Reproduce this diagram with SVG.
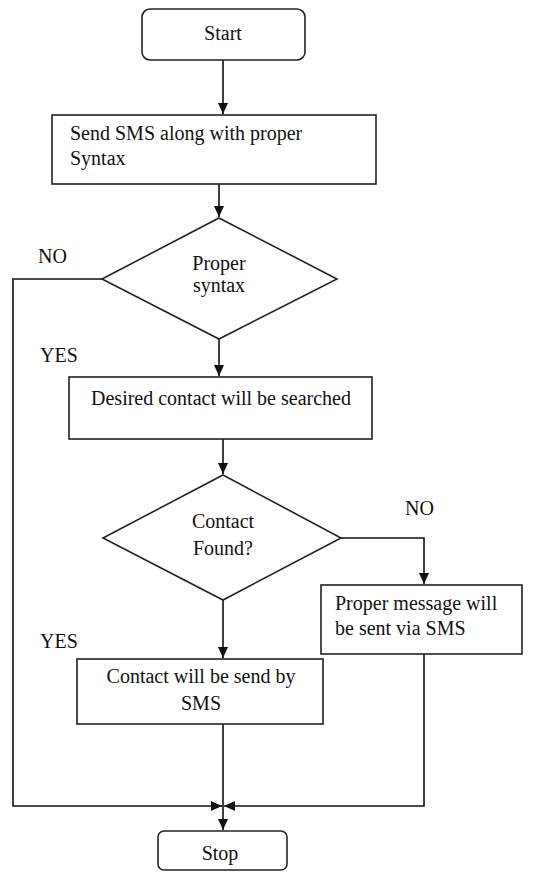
<svg xmlns="http://www.w3.org/2000/svg" width="538" height="872" viewBox="0 0 538 872">
<style>
.box{fill:#fff;stroke:#222;stroke-width:1.6}
.ln{fill:none;stroke:#111;stroke-width:1.6}
text{font-family:"Liberation Serif","Times New Roman",serif;font-size:20px;fill:#111}
.c{text-anchor:middle}
</style>
<defs>
<marker id="ah" markerUnits="userSpaceOnUse" markerWidth="12" markerHeight="12" viewBox="0 0 12 12" refX="11" refY="6" orient="auto">
<path d="M0,1 L11,6 L0,11 Z" fill="#111"/>
</marker>
</defs>
<g id="connectors">
<path class="ln" d="M223,60 V114" marker-end="url(#ah)"/>
<path class="ln" d="M219,184 V217" marker-end="url(#ah)"/>
<path class="ln" d="M219,339 V376" marker-end="url(#ah)"/>
<path class="ln" d="M223,439 V474" marker-end="url(#ah)"/>
<path class="ln" d="M223,600 V658" marker-end="url(#ah)"/>
<path class="ln" d="M341,538 H424 V584" marker-end="url(#ah)"/>
<path class="ln" d="M102,279 H13 V806 H222" marker-end="url(#ah)"/>
<path class="ln" d="M424,654 V806 H224" marker-end="url(#ah)"/>
<path class="ln" d="M223,724 V830" marker-end="url(#ah)"/>
</g>
<g id="start">
<rect class="box" x="142" y="9" width="163" height="51" rx="8"/>
<text class="c" x="223" y="40">Start</text>
</g>
<g id="send-sms">
<rect class="box" x="52" y="115" width="324" height="69"/>
<text x="70" y="140">Send SMS along with proper</text>
<text x="70" y="165">Syntax</text>
</g>
<g id="proper-syntax">
<polygon class="box" points="219,218 337,279 219,339 102,279"/>
<text class="c" x="219" y="270">Proper</text>
<text class="c" x="219" y="292">syntax</text>
</g>
<text x="38" y="263">NO</text>
<text x="40" y="362">YES</text>
<g id="search">
<rect class="box" x="69" y="377" width="303" height="62"/>
<text class="c" x="221" y="405">Desired contact will be searched</text>
</g>
<g id="contact-found">
<polygon class="box" points="223,475 341,538 223,600 103,538"/>
<text class="c" x="223" y="528">Contact</text>
<text class="c" x="223" y="555">Found?</text>
</g>
<text x="405" y="515">NO</text>
<text x="40" y="648">YES</text>
<g id="proper-message">
<rect class="box" x="321" y="585" width="201" height="69"/>
<text x="335" y="610">Proper message will</text>
<text x="335" y="635">be sent via SMS</text>
</g>
<g id="contact-send">
<rect class="box" x="77" y="659" width="246" height="65"/>
<text class="c" x="201" y="683">Contact will be send by</text>
<text class="c" x="201" y="710">SMS</text>
</g>
<g id="stop">
<rect class="box" x="158" y="831" width="129" height="39" rx="6"/>
<text class="c" x="220" y="860">Stop</text>
</g>
</svg>
